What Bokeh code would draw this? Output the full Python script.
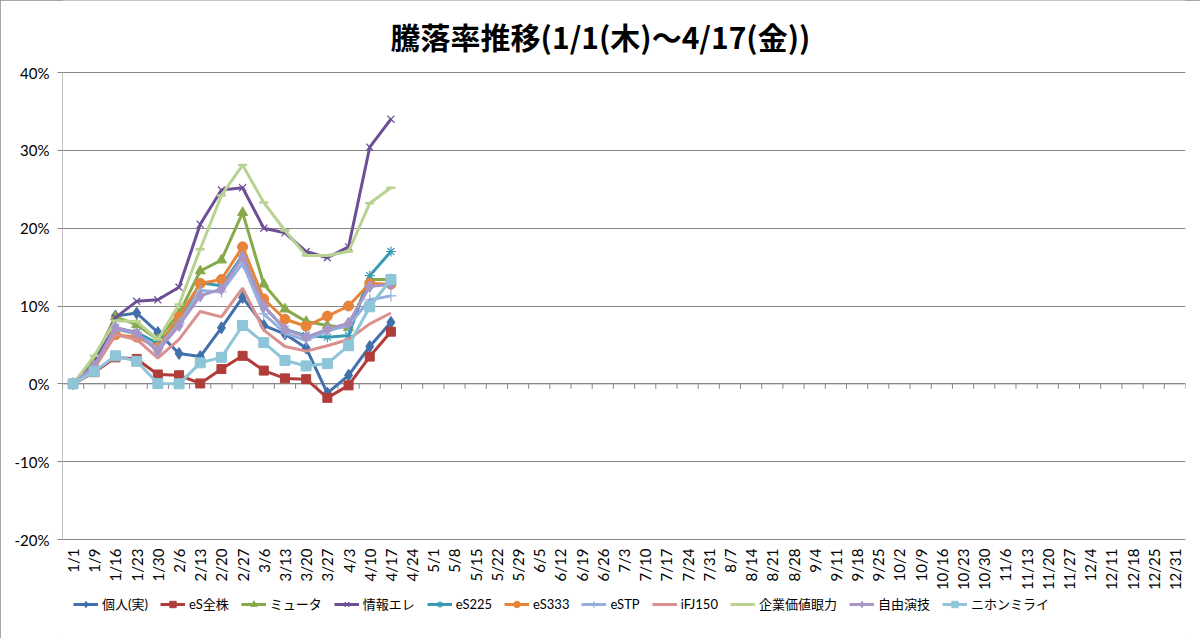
import math
from bokeh.plotting import figure
from bokeh.models import (FactorRange, Range1d, FixedTicker, PrintfTickFormatter, Legend,
                          LegendItem, Span, InlineStyleSheet)
from bokeh.embed import file_html
from bokeh.resources import INLINE
from bokeh.core.properties import value

categories = ["1/1", "1/9", "1/16", "1/23", "1/30", "2/6", "2/13", "2/20", "2/27", "3/6", "3/13",
              "3/20", "3/27", "4/3", "4/10", "4/17", "4/24", "5/1", "5/8", "5/15", "5/22", "5/29",
              "6/5", "6/12", "6/19", "6/26", "7/3", "7/10", "7/17", "7/24", "7/31", "8/7", "8/14",
              "8/21", "8/28", "9/4", "9/11", "9/18", "9/25", "10/2", "10/9", "10/16", "10/23",
              "10/30", "11/6", "11/13", "11/20", "11/27", "12/4", "12/11", "12/18", "12/25", "12/31"]
data_dates = categories[:16]

kojin      = [0, 2.0, 8.7, 9.1, 6.6, 3.9, 3.5, 7.2, 11.1, 7.5, 6.4, 4.6, -1.2, 1.1, 4.8, 7.9]
es_zenkabu = [0, 1.5, 3.4, 3.2, 1.2, 1.1, 0.05, 1.9, 3.6, 1.7, 0.7, 0.6, -1.8, -0.2, 3.5, 6.7]
myuta      = [0, 3.2, 8.6, 7.6, 5.7, 9.0, 14.5, 15.9, 22.0, 12.8, 9.6, 8.0, 7.5, 7.2, 13.4, 13.4]
joho_ele   = [0, 2.5, 8.5, 10.6, 10.8, 12.4, 20.5, 24.9, 25.2, 20.0, 19.4, 17.0, 16.2, 17.6, 30.4, 34.0]
es225      = [0, 2.3, 7.2, 6.6, 5.2, 8.0, 13.0, 12.6, 16.5, 10.0, 7.0, 6.2, 6.0, 6.2, 13.9, 17.0]
es333      = [0, 2.0, 6.3, 6.0, 4.7, 8.6, 12.9, 13.4, 17.6, 10.9, 8.3, 7.4, 8.7, 10.0, 12.9, 12.8]
estp       = [0, 2.0, 7.0, 6.4, 4.5, 7.8, 12.0, 11.8, 15.5, 9.0, 6.5, 5.6, 6.8, 7.5, 10.8, 11.3]
ifj150     = [0, 2.0, 6.3, 5.7, 3.3, 5.7, 9.3, 8.6, 12.3, 6.9, 4.8, 4.2, 4.9, 5.7, 7.7, 9.1]
kigyo      = [0, 3.6, 8.1, 8.0, 5.7, 10.2, 17.3, 24.2, 28.1, 23.3, 19.7, 16.5, 16.5, 17.0, 23.2, 25.2]
jiyu       = [0, 2.3, 7.2, 6.5, 4.2, 7.5, 11.3, 12.2, 16.3, 10.0, 7.0, 6.0, 7.0, 7.8, 12.5, 12.8]
nihon      = [0, 1.6, 3.6, 2.9, 0.05, 0.0, 2.7, 3.4, 7.5, 5.3, 3.0, 2.3, 2.6, 4.9, 9.9, 13.4]

series_names = ["個人(実)", "eS全株", "ミュータ", "情報エレ", "eS225", "eS333", "eSTP",
                "iFJ150", "企業価値眼力", "自由演技", "ニホンミライ"]
series_values = [kojin, es_zenkabu, myuta, joho_ele, es225, es333, estp, ifj150, kigyo, jiyu, nihon]
colors = ["#4170AB", "#B13D3A", "#86AA49", "#6C4F95", "#3A9AB3", "#E8843A", "#94AEDD",
          "#D9908E", "#B8D391", "#A996C8", "#8EC5D8"]
markers = ["diamond", "square", "triangle", "x", "asterisk", "circle", "cross",
           None, "dash", "diamond", "square"]
marker_sizes = [12, 9, 10, 10, 10, 10, 11, 0, 9, 12, 10]

title_text = "騰落率推移(1/1(木)～4/17(金))"
y_ticks = [-20, -10, 0, 10, 20, 30, 40]
Y_MIN, Y_MAX = -20, 40

# layout (pixels)
W, H = 1200, 638
LEFT, RIGHT = 62, 15
AREA_TOP, AREA_BOTTOM = 72, 539       # pixel rows of 40% and -20%
TITLE_CX, TITLE_CY = 600, 35          # title centre
px = (Y_MAX - Y_MIN) / (AREA_BOTTOM - AREA_TOP)
y_end = Y_MAX + AREA_TOP * px
y_start = Y_MIN - (H - AREA_BOTTOM) * px

n = len(categories)
frame_w = W - LEFT - RIGHT
title_x = (TITLE_CX - LEFT) * n / frame_w
title_y = Y_MAX + (AREA_TOP - TITLE_CY) * px

p = figure(width=W, height=H, x_range=FactorRange(*categories), y_range=Range1d(y_start, y_end),
           output_backend="svg", toolbar_location=None,
           min_border_left=LEFT, min_border_right=RIGHT, min_border_top=0, min_border_bottom=0)
p.x_range.range_padding = 0
p.stylesheets = [InlineStyleSheet(css=":host { outline: 1px solid #8a8a8a; outline-offset: -1px; }")]

p.outline_line_color = None
p.background_fill_color = "white"
p.border_fill_color = "white"

# y axis (line drawn manually so that it spans only -20%..40%)
p.yaxis.ticker = FixedTicker(ticks=y_ticks)
p.yaxis.formatter = PrintfTickFormatter(format="%d%%")
p.yaxis.axis_line_color = None
p.yaxis.major_tick_line_color = "#868686"
p.yaxis.major_tick_out = 5
p.yaxis.major_tick_in = 0
p.yaxis.minor_tick_line_color = None
p.yaxis.major_label_text_font = "Lato"
p.yaxis.major_label_text_font_size = "15px"
p.yaxis.major_label_text_color = "#000000"
p.yaxis.major_label_standoff = 8

p.xaxis.visible = False
p.xgrid.grid_line_color = None
p.ygrid.ticker = FixedTicker(ticks=y_ticks)
p.ygrid.grid_line_color = "#878787"
p.ygrid.grid_line_width = 1

p.segment(x0=[0], y0=[Y_MIN], x1=[0], y1=[Y_MAX], line_color="#868686", line_width=1)

# category axis line at 0 with tick marks between categories
p.add_layout(Span(location=0, dimension="width", line_color="#868686", line_width=1, level="underlay"))
bounds = list(range(n + 1))
p.segment(x0=bounds, y0=[0] * len(bounds), x1=bounds, y1=[-5 * px] * len(bounds),
          line_color="#868686", line_width=1)

# category labels, rotated, hanging below the -20% line
p.text(x=categories, y=[Y_MIN] * n, text=categories, angle=math.pi / 2,
       text_align="right", text_baseline="middle", y_offset=9,
       text_font_size="15px", text_color="#000000", text_font=value("Lato"))

# title
p.text(x=[title_x], y=[title_y], text=[title_text], text_align="center", text_baseline="middle",
       text_font_size="30px", text_font_style="bold", text_color="#000000",
       text_font=value("Noto Sans CJK JP"))

items = []
for name, vals, col, mk, ms in zip(series_names, series_values, colors, markers, marker_sizes):
    rs = []
    lr = p.line(x=data_dates, y=vals, line_color=col, line_width=3)
    rs.append(lr)
    if mk is not None:
        if mk in ("x", "asterisk", "cross"):
            sr = p.scatter(x=data_dates, y=vals, marker=mk, size=ms, line_color=col, line_width=1.2)
        elif mk == "dash":
            sr = p.scatter(x=data_dates, y=vals, marker=mk, size=ms, line_color=col, line_width=2.5)
        else:
            sr = p.scatter(x=data_dates, y=vals, marker=mk, size=ms, fill_color=col, line_color=col)
        rs.append(sr)
    items.append(LegendItem(label=name, renderers=rs))

legend = Legend(items=items, orientation="horizontal", location=(11, 25),
                label_text_font="Lato, 'Noto Sans CJK JP'", label_text_font_size="13px",
                label_text_color="#000000",
                glyph_width=25, glyph_height=16, label_height=16, label_standoff=4,
                spacing=12, padding=0, margin=0,
                border_line_color=None, background_fill_alpha=0)
p.add_layout(legend, "center")

html = file_html(p, INLINE)
open("out.html", "w").write(html)
